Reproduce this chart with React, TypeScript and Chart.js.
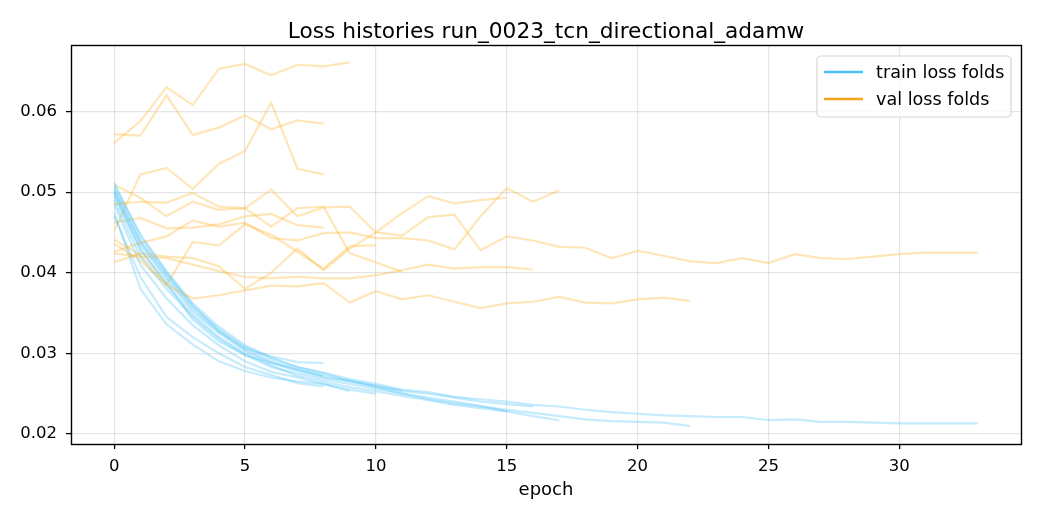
import React, { useEffect, useRef } from 'react';
import { Chart, registerables } from 'chart.js';

Chart.register(...registerables);

const TITLE = 'Loss histories run_0023_tcn_directional_adamw';
const X_LABEL = 'epoch';
const TRAIN_LABEL = 'train loss folds';
const VAL_LABEL = 'val loss folds';
const X_TICKS = [0, 5, 10, 15, 20, 25, 30];
const Y_TICKS = [0.02, 0.03, 0.04, 0.05, 0.06];
const X_MIN = -1.65;
const X_MAX = 34.65;
const Y_MIN = 0.01875;
const Y_MAX = 0.06825;

// training loss per fold (index = epoch)
const TRAIN_FOLD_1 = [0.0505, 0.0440, 0.0398, 0.0358, 0.0330, 0.0308, 0.0293, 0.0283, 0.0276, 0.0268, 0.0262, 0.0255, 0.0252, 0.0246, 0.0243, 0.0240, 0.0236, 0.0234, 0.0230, 0.0227, 0.0225, 0.0223, 0.0222, 0.0221, 0.0221, 0.0217, 0.0218, 0.0215, 0.0215, 0.0214, 0.0213, 0.0213, 0.0213, 0.0213];
const TRAIN_FOLD_2 = [0.0490, 0.0420, 0.0380, 0.0345, 0.0318, 0.0298, 0.0283, 0.0275, 0.0268, 0.0262, 0.0256, 0.0250, 0.0243, 0.0238, 0.0234, 0.0230, 0.0226, 0.0222, 0.0218, 0.0216, 0.0215, 0.0214, 0.0210];
const TRAIN_FOLD_3 = [0.0512, 0.0445, 0.0400, 0.0360, 0.0328, 0.0305, 0.0290, 0.0280, 0.0272, 0.0265, 0.0258, 0.0250, 0.0245, 0.0240, 0.0235, 0.0228, 0.0222, 0.0217];
const TRAIN_FOLD_4 = [0.0500, 0.0435, 0.0392, 0.0352, 0.0325, 0.0303, 0.0288, 0.0278, 0.0270, 0.0266, 0.0260, 0.0253, 0.0250, 0.0245, 0.0240, 0.0237, 0.0234];
const TRAIN_FOLD_5 = [0.0495, 0.0430, 0.0385, 0.0348, 0.0320, 0.0300, 0.0285, 0.0272, 0.0265, 0.0258, 0.0253, 0.0247, 0.0242, 0.0236, 0.0232, 0.0228];
const TRAIN_FOLD_6 = [0.0508, 0.0448, 0.0402, 0.0362, 0.0333, 0.0310, 0.0295, 0.0283, 0.0275, 0.0266, 0.0259, 0.0254];
const TRAIN_FOLD_7 = [0.0485, 0.0410, 0.0368, 0.0335, 0.0310, 0.0290, 0.0277, 0.0270, 0.0262, 0.0255, 0.0250];
const TRAIN_FOLD_8 = [0.0475, 0.0380, 0.0336, 0.0311, 0.0290, 0.0278, 0.0270, 0.0265, 0.0262, 0.0253];
const TRAIN_FOLD_9 = [0.0470, 0.0395, 0.0345, 0.0320, 0.0300, 0.0283, 0.0273, 0.0263, 0.0259];
const TRAIN_FOLD_10 = [0.0502, 0.0438, 0.0395, 0.0355, 0.0327, 0.0306, 0.0296, 0.0289, 0.0288];
const TRAIN_FOLD_11 = [0.0498, 0.0428, 0.0388, 0.0342, 0.0315, 0.0298, 0.0288, 0.0280, 0.0272];

// validation loss per fold (index = epoch)
const VAL_FOLD_1 = [0.0485, 0.0488, 0.0487, 0.0499, 0.0482, 0.0480, 0.0503, 0.0470, 0.0481, 0.0482, 0.0450, 0.0446, 0.0469, 0.0472, 0.0428, 0.0445, 0.0440, 0.0432, 0.0431, 0.0418, 0.0427, 0.0421, 0.0414, 0.0412, 0.0418, 0.0412, 0.0423, 0.0418, 0.0417, 0.0420, 0.0423, 0.0425, 0.0425, 0.0425];
const VAL_FOLD_2 = [0.0441, 0.0422, 0.0385, 0.0368, 0.0372, 0.0378, 0.0384, 0.0383, 0.0387, 0.0363, 0.0377, 0.0367, 0.0372, 0.0364, 0.0356, 0.0362, 0.0364, 0.0370, 0.0363, 0.0362, 0.0367, 0.0369, 0.0365];
const VAL_FOLD_3 = [0.0426, 0.0437, 0.0445, 0.0465, 0.0457, 0.0462, 0.0443, 0.0440, 0.0449, 0.0450, 0.0443, 0.0443, 0.0440, 0.0429, 0.0470, 0.0505, 0.0488, 0.0502];
const VAL_FOLD_4 = [0.0424, 0.0420, 0.0418, 0.0410, 0.0402, 0.0395, 0.0393, 0.0395, 0.0393, 0.0393, 0.0397, 0.0403, 0.0410, 0.0405, 0.0407, 0.0407, 0.0404];
const VAL_FOLD_5 = [0.0413, 0.0424, 0.0420, 0.0418, 0.0408, 0.0380, 0.0400, 0.0430, 0.0403, 0.0430, 0.0450, 0.0474, 0.0495, 0.0486, 0.0490, 0.0493];
const VAL_FOLD_6 = [0.0509, 0.0493, 0.0470, 0.0488, 0.0478, 0.0480, 0.0457, 0.0480, 0.0482, 0.0424, 0.0413, 0.0401];
const VAL_FOLD_7 = [0.0436, 0.0415, 0.0385, 0.0438, 0.0434, 0.0460, 0.0447, 0.0426, 0.0405, 0.0433, 0.0434];
const VAL_FOLD_8 = [0.0561, 0.0588, 0.0630, 0.0608, 0.0653, 0.0659, 0.0645, 0.0658, 0.0656, 0.0661];
const VAL_FOLD_9 = [0.0572, 0.0570, 0.0620, 0.0571, 0.0580, 0.0595, 0.0578, 0.0589, 0.0585];
const VAL_FOLD_10 = [0.0452, 0.0522, 0.0530, 0.0504, 0.0535, 0.0551, 0.0611, 0.0529, 0.0522];
const VAL_FOLD_11 = [0.0462, 0.0468, 0.0455, 0.0456, 0.0460, 0.0470, 0.0473, 0.0459, 0.0456];

const TRAIN_FOLDS = [TRAIN_FOLD_1, TRAIN_FOLD_2, TRAIN_FOLD_3, TRAIN_FOLD_4, TRAIN_FOLD_5, TRAIN_FOLD_6, TRAIN_FOLD_7, TRAIN_FOLD_8, TRAIN_FOLD_9, TRAIN_FOLD_10, TRAIN_FOLD_11];
const VAL_FOLDS = [VAL_FOLD_1, VAL_FOLD_2, VAL_FOLD_3, VAL_FOLD_4, VAL_FOLD_5, VAL_FOLD_6, VAL_FOLD_7, VAL_FOLD_8, VAL_FOLD_9, VAL_FOLD_10, VAL_FOLD_11];

const TRAIN_COLOR = '#4fc3f7';
const VAL_COLOR = '#f7a51f';
const TRAIN_LINE = 'rgba(79,195,247,0.33)';
const VAL_LINE = 'rgba(255,165,0,0.28)';
const FONT = '"DejaVu Sans", "Liberation Sans", sans-serif';
const TICK_SIZE = 16.5;
const LABEL_SIZE = 18;
const LEGEND_SIZE = 17.6;
const TITLE_SIZE = 21.7;

const toPoints = (arr: number[]) => arr.map((y, i) => ({ x: i, y }));

const decorPlugin = {
  id: 'mplDecor',
  afterDraw(chart: any) {
    const { ctx, chartArea: a } = chart;
    ctx.save();
    // frame
    ctx.strokeStyle = '#000';
    ctx.lineWidth = 1.4;
    ctx.strokeRect(Math.round(a.left) + 0.5, Math.round(a.top) + 0.5, Math.round(a.right - a.left), Math.round(a.bottom - a.top));
    const cx = (a.left + a.right) / 2;
    ctx.fillStyle = '#000';
    ctx.textAlign = 'center';
    ctx.textBaseline = 'alphabetic';
    ctx.font = `${TITLE_SIZE}px ${FONT}`;
    ctx.fillText(TITLE, cx, a.top - 7);
    ctx.font = `${LABEL_SIZE}px ${FONT}`;
    ctx.fillText(X_LABEL, cx, 495);

    // legend
    const bx = a.right - 204;
    const by = a.top + 11;
    const bw = 194;
    const bh = 61;
    const r = 4;
    ctx.beginPath();
    ctx.moveTo(bx + r, by);
    ctx.lineTo(bx + bw - r, by);
    ctx.arcTo(bx + bw, by, bx + bw, by + r, r);
    ctx.lineTo(bx + bw, by + bh - r);
    ctx.arcTo(bx + bw, by + bh, bx + bw - r, by + bh, r);
    ctx.lineTo(bx + r, by + bh);
    ctx.arcTo(bx, by + bh, bx, by + bh - r, r);
    ctx.lineTo(bx, by + r);
    ctx.arcTo(bx, by, bx + r, by, r);
    ctx.closePath();
    ctx.fillStyle = 'rgba(255,255,255,0.8)';
    ctx.fill();
    ctx.strokeStyle = '#d6d6d6';
    ctx.lineWidth = 1.2;
    ctx.stroke();
    const entries: [string, string][] = [[TRAIN_LABEL, TRAIN_COLOR], [VAL_LABEL, VAL_COLOR]];
    entries.forEach(([label, color], i) => {
      const y = by + 16 + i * 27;
      ctx.strokeStyle = color;
      ctx.lineWidth = 2.6;
      ctx.beginPath();
      ctx.moveTo(bx + 7, y);
      ctx.lineTo(bx + 46, y);
      ctx.stroke();
      ctx.fillStyle = '#000';
      ctx.textAlign = 'left';
      ctx.textBaseline = 'middle';
      ctx.font = `${LEGEND_SIZE}px ${FONT}`;
      ctx.fillText(label, bx + 59, y + 1);
    });
    ctx.restore();
  },
};

export default function App() {
  const ref = useRef<HTMLCanvasElement | null>(null);
  useEffect(() => {
    if (!ref.current) return;
    const datasets: any[] = [];
    TRAIN_FOLDS.forEach((tr, i) => {
      datasets.push({
        label: `${TRAIN_LABEL} ${i + 1}`,
        data: toPoints(tr),
        borderColor: TRAIN_LINE,
        borderWidth: 2.2,
        pointRadius: 0,
        fill: false,
        tension: 0,
      });
      datasets.push({
        label: `${VAL_LABEL} ${i + 1}`,
        data: toPoints(VAL_FOLDS[i]),
        borderColor: VAL_LINE,
        borderWidth: 2.2,
        pointRadius: 0,
        fill: false,
        tension: 0,
      });
    });
    const chart = new Chart(ref.current, {
      type: 'line',
      data: { datasets },
      plugins: [decorPlugin],
      options: {
        animation: false,
        responsive: false,
        devicePixelRatio: 1,
        layout: { padding: { left: 0, top: 45, right: 19, bottom: 0 } },
        plugins: {
          legend: { display: false },
          title: { display: false },
          tooltip: { enabled: false },
        },
        scales: {
          x: {
            type: 'linear',
            min: X_MIN,
            max: X_MAX,
            afterBuildTicks: (s: any) => { s.ticks = X_TICKS.map((v) => ({ value: v })); },
            afterFit: (s: any) => { s.height = 76; },
            border: { display: false },
            grid: { color: 'rgba(0,0,0,0.1)', lineWidth: 1.2, tickColor: '#000', tickLength: 5, tickWidth: 1.3 },
            ticks: { color: '#000', font: { family: FONT, size: TICK_SIZE }, padding: 8, maxRotation: 0, callback: (v: any) => String(v) },
          },
          y: {
            type: 'linear',
            min: Y_MIN,
            max: Y_MAX,
            afterBuildTicks: (s: any) => { s.ticks = Y_TICKS.map((v) => ({ value: v })); },
            afterFit: (s: any) => { s.width = 71; },
            border: { display: false },
            grid: { color: 'rgba(0,0,0,0.1)', lineWidth: 1.2, tickColor: '#000', tickLength: 5, tickWidth: 1.3 },
            ticks: { color: '#000', font: { family: FONT, size: TICK_SIZE }, padding: 9, callback: (v: any) => Number(v).toFixed(2) },
          },
        },
      },
    });
    return () => chart.destroy();
  }, []);
  return (
    <div style={{ position: 'fixed', left: 0, top: 0, width: 1040, height: 520, background: '#fff' }}>
      <canvas ref={ref} width={1040} height={520} style={{ width: 1040, height: 520 }} />
    </div>
  );
}
